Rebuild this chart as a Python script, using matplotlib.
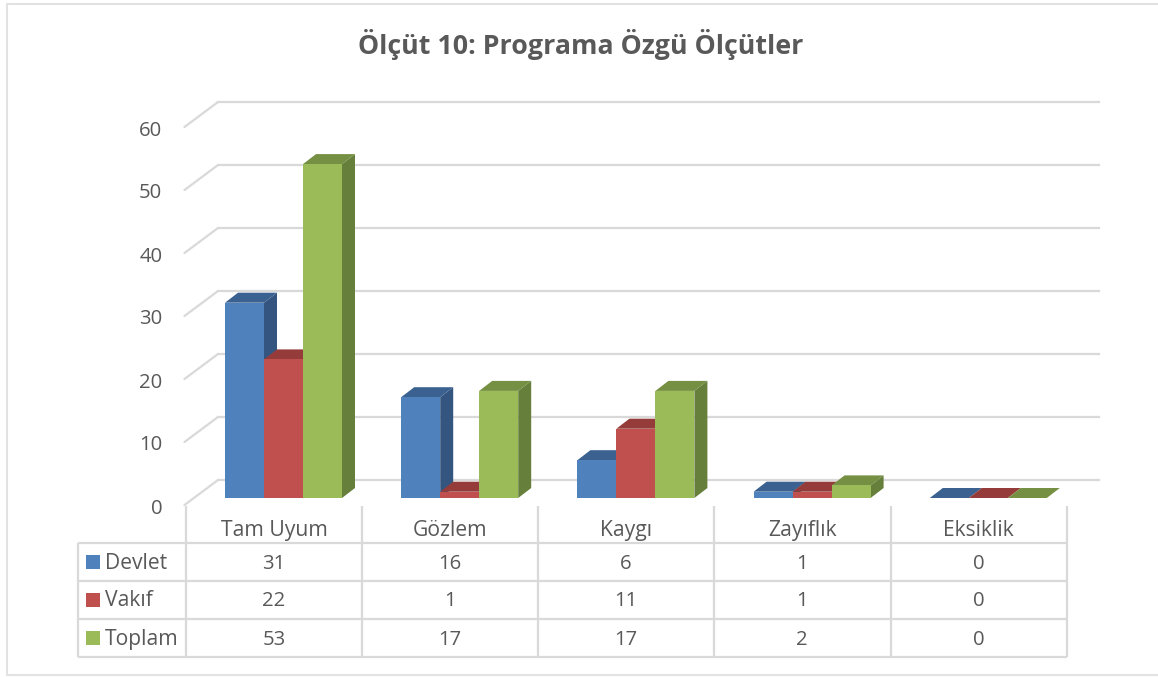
import matplotlib
matplotlib.use('Agg')
import matplotlib.pyplot as plt
from matplotlib.patches import Polygon, Rectangle
from matplotlib.transforms import Affine2D

plt.rcParams['font.family'] = ['Open Sans', 'DejaVu Sans']

# data
categories = ['Tam Uyum', 'Gözlem', 'Kaygı', 'Zayıflık', 'Eksiklik']
series_names = ['Devlet', 'Vakıf', 'Toplam']
devlet = [31, 16, 6, 1, 0]
vakif = [22, 1, 11, 1, 0]
toplam = [53, 17, 17, 2, 0]
y_ticks = [0, 10, 20, 30, 40, 50, 60]
title = 'Ölçüt 10: Programa Özgü Ölçütler'

# colours: front, side and top of each bar
front_cols = ['#4F81BD', '#C0504D', '#9BBB59']
side_cols = ['#34557F', '#8C3A38', '#667F3A']
top_cols = ['#3A618F', '#953C3A', '#758F43']
grid_col = '#D9D9D9'
frame_col = '#E2E2E2'
text_col = '#595959'
label_size = 15.2
num_size = 14.6

W, H = 1158, 677
fig = plt.figure(figsize=(W / 100, H / 100), dpi=100)

# overlay in pixel coordinates for frame, title and data table
bg = fig.add_axes([0, 0, 1, 1])
bg.set_xlim(0, W)
bg.set_ylim(H, 0)
bg.axis('off')
# frame runs off the right edge of the picture
bg.plot([W, 6.5, 6.5, W], [3.5, 3.5, 675, 675], color=frame_col, lw=1.5)
bg.text(581, 45, title, ha='center', va='center', fontsize=19.3, fontweight='bold', color=text_col)

col_x = [186, 362, 538, 714, 890.5, 1067]
row_y = [543, 580.5, 618.5, 657]
for x in col_x:
    bg.plot([x, x], [506, 657], color=grid_col, lw=1.6, solid_capstyle='butt')
bg.plot([78, 78], [543, 657], color=grid_col, lw=1.6, solid_capstyle='butt')
for y in row_y:
    bg.plot([78, 1067], [y, y], color=grid_col, lw=1.6, solid_capstyle='butt')

for i, cat in enumerate(categories):
    cx = (col_x[i] + col_x[i + 1]) / 2
    bg.text(cx, 530.5, cat, ha='center', va='center', fontsize=label_size, color=text_col)

for r, (name, vals) in enumerate(zip(series_names, [devlet, vakif, toplam])):
    yc = (row_y[r] + row_y[r + 1]) / 2
    bg.add_patch(Rectangle((86, yc - 7), 14, 14, fc=front_cols[r], ec='none'))
    bg.text(105, yc + 1.5, name, ha='left', va='center', fontsize=label_size, color=text_col)
    for i, v in enumerate(vals):
        cx = (col_x[i] + col_x[i + 1]) / 2
        bg.text(cx, yc + 2, str(v), ha='center', va='center', fontsize=num_size, color=text_col)

# bar axes: x is category index, y is value, front floor at pixel y=498
ax = fig.add_axes([186 / W, (H - 498) / H, (1067 - 186) / W, 378 / H])
ax.patch.set_alpha(0)
ax.set_xlim(0, 5)
ax.set_ylim(0, 60)
for s in ax.spines.values():
    s.set_visible(False)
ax.set_xticks([])
ax.set_yticks(y_ticks)
ax.tick_params(axis='y', length=0, pad=17, labelsize=num_size, labelcolor=text_col)
for lab in ax.get_yticklabels():
    lab.set_transform(lab.get_transform() + Affine2D().translate(0, -8))

# one pixel in data units
px_x = 5 / (1067 - 186)
px_y = 60 / 378

# walls
for v in y_ticks:
    ax.plot([-1.5 * px_x, 32 * px_x], [v - 7 * px_y, v + 18 * px_y], color=grid_col, lw=1.6,
            clip_on=False, zorder=1, solid_capstyle='round')
    ax.plot([32 * px_x, 5 + 32 * px_x], [v + 18 * px_y, v + 18 * px_y], color=grid_col, lw=1.6,
            clip_on=False, zorder=1)

# bars
bar_w = 39 * px_x
offsets = [39 * px_x + bar_w * k for k in range(3)]
dx = 13 * px_x
dy = 10 * px_y
for s, vals in enumerate([devlet, vakif, toplam]):
    for i, v in enumerate(vals):
        x0 = i + offsets[s]
        z = 3 + s + i * 3
        ax.add_patch(Polygon([(x0 + bar_w, 0), (x0 + bar_w + dx, dy), (x0 + bar_w + dx, v + dy), (x0 + bar_w, v)],
                             fc=side_cols[s], ec='none', clip_on=False, zorder=z))
        ax.add_patch(Polygon([(x0, v), (x0 + dx, v + dy), (x0 + bar_w + dx, v + dy), (x0 + bar_w, v)],
                             fc=top_cols[s], ec='none', clip_on=False, zorder=z))
        ax.bar(x0, v, width=bar_w, align='edge', color=front_cols[s], zorder=z, clip_on=False)

fig.savefig('out.png', dpi=100)
